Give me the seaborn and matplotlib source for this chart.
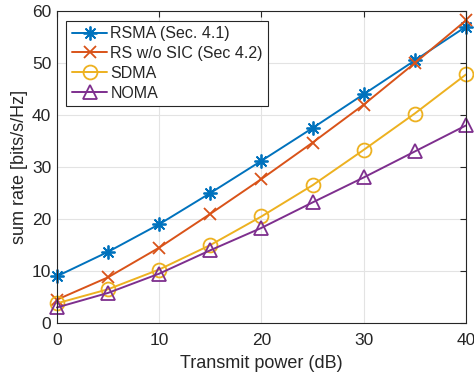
import numpy as np
import pandas as pd
import matplotlib
matplotlib.use("Agg")
import matplotlib.pyplot as plt
import seaborn as sns

# values
power_db = [0, 5, 10, 15, 20, 25, 30, 35, 40]
rsma = [9.0, 13.7, 19.0, 25.0, 31.2, 37.5, 44.0, 50.5, 57.0]
rs_no_sic = [4.5, 8.8, 14.5, 21.0, 27.7, 34.7, 42.0, 50.0, 58.2]
sdma = [3.8, 6.5, 10.3, 15.0, 20.5, 26.5, 33.3, 40.3, 47.8]
noma = [3.0, 5.8, 9.5, 14.0, 18.3, 23.2, 28.0, 33.0, 38.0]

labels = ["RSMA (Sec. 4.1)", "RS w/o SIC (Sec 4.2)", "SDMA", "NOMA"]
colors = ["#0072BD", "#D95319", "#EDB120", "#7E2F8E"]
markers = [(8, 2, 0), "x", "o", "^"]

sns.set_style("whitegrid")
plt.rcParams["font.family"] = ["Liberation Sans", "DejaVu Sans"]

fig = plt.figure(figsize=(4.74, 3.81), dpi=100)
ax = fig.add_axes([0.120, 0.152, 0.863, 0.819])

for vals, lab, col, mk in zip([rsma, rs_no_sic, sdma, noma], labels, colors, markers):
    df = pd.DataFrame({"power": power_db, "rate": vals})
    sns.lineplot(data=df, x="power", y="rate", ax=ax, color=col, label=lab,
                 marker=mk, markersize=10 if mk != "x" else 9,
                 markeredgecolor=col, markerfacecolor="none",
                 markeredgewidth=1.3, linewidth=1.4, clip_on=False)

ax.set_xlim(0, 40)
ax.set_ylim(0, 60)
ax.set_xticks(range(0, 41, 10))
ax.set_yticks(range(0, 61, 10))
ax.grid(True, color="#e3e3e3", linewidth=0.8)
for s in ax.spines.values():
    s.set_color("#262626")
    s.set_linewidth(0.8)
ax.tick_params(direction="in", top=True, right=True, length=4, width=0.8,
               labelsize=12.5, colors="#262626")
ax.tick_params(axis="x", pad=7)
ax.tick_params(axis="y", pad=4)
ax.set_xlabel("Transmit power (dB)", fontsize=13, color="#262626", labelpad=5)
ax.set_ylabel("sum rate [bits/s/Hz]", fontsize=13, color="#262626", labelpad=3)

leg = ax.legend(loc="upper left", fontsize=11.5, frameon=True, fancybox=False,
                handlelength=2.2, handletextpad=0.2, borderpad=0.35,
                labelspacing=0.3, borderaxespad=0.6, framealpha=1)
leg.get_frame().set_edgecolor("#262626")
leg.get_frame().set_linewidth(0.8)

fig.savefig("out.png", dpi=100)
